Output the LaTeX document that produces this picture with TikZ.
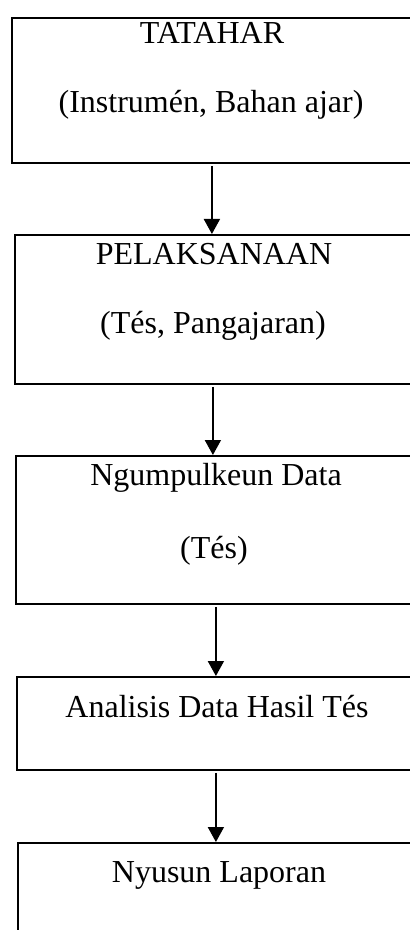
\documentclass[tikz,border=0pt]{standalone}
\usepackage{fontspec}
\setmainfont{Liberation Serif}
\usetikzlibrary{arrows.meta}

\begin{document}
\begin{tikzpicture}[x=0.5pt, y=-0.5pt]

	\tikzstyle{stage_box} = [rectangle, draw=black, line width=0.9pt, anchor=north west, inner sep=0pt]
	\tikzstyle{stage_text} = [anchor=base, inner sep=0pt, font=\fontsize{16pt}{19pt}\selectfont]
	\tikzstyle{flow_arrow} = [draw=black, line width=0.9pt, -{Triangle[width=8pt, length=7.5pt]}, shorten <=1pt]

	\useasboundingbox (0,0) rectangle (410,930);
	\clip (0,0) rectangle (410,930);

%------------------------------------------------------------
	\node[stage_box, minimum width=201.5pt, minimum height=72.5pt] (tatahar) at (11,17) {};
	\node[stage_text] (tatahar_t1) at (212,44) {TATAHAR};
	\node[stage_text] (tatahar_t2) at (211,113) {(Instrumén, Bahan ajar)};

%------------------------------------------------------------
	\node[stage_box, minimum width=200pt, minimum height=74.5pt] (pelaksanaan) at (14,234) {};
	\node[stage_text] (pelaksanaan_t1) at (214,265) {PELAKSANAAN};
	\node[stage_text] (pelaksanaan_t2) at (213,333) {(Tés, Pangajaran)};

%------------------------------------------------------------
	\node[stage_box, minimum width=199.5pt, minimum height=74pt] (ngumpulkeun) at (15,455) {};
	\node[stage_text] (ngumpulkeun_t1) at (216,485) {Ngumpulkeun Data};
	\node[stage_text] (ngumpulkeun_t2) at (214,558) {(Tés)};

%------------------------------------------------------------
	\node[stage_box, minimum width=199pt, minimum height=46.5pt] (analisis) at (16,676) {};
	\node[stage_text] (analisis_t1) at (217,717) {Analisis Data Hasil Tés};

%------------------------------------------------------------
	\node[stage_box, minimum width=198.5pt, minimum height=50pt] (laporan) at (17,842) {};
	\node[stage_text] (laporan_t1) at (219,882) {Nyusun Laporan};

%------------------------------------------------------------
	\draw[flow_arrow] ([xshift=-0.75pt]tatahar.south) -- ([xshift=-0.75pt]tatahar.south |- pelaksanaan.north);
	\draw[flow_arrow] ([xshift=-1pt]pelaksanaan.south) -- ([xshift=-1pt]pelaksanaan.south |- ngumpulkeun.north);
	\draw[flow_arrow] ([xshift=0.25pt]ngumpulkeun.south) -- ([xshift=0.25pt]ngumpulkeun.south |- analisis.north);
	\draw[flow_arrow] (analisis.south) -- (analisis.south |- laporan.north);

\end{tikzpicture}
\end{document}
